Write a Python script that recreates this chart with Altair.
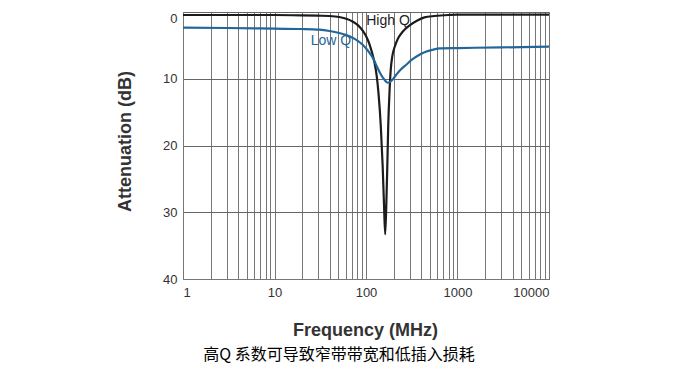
import altair as alt
import pandas as pd

# High Q curve (frequency MHz, attenuation dB)
high_f = [1, 10, 20, 30, 40, 51, 62, 72, 82, 92, 100, 109, 117, 124, 131, 137, 145, 152, 157, 162,
          167, 171, 175, 180, 186, 194, 206, 223, 250, 300, 360, 435, 560, 800, 1000, 10000]
high_db = [0.45, 0.45, 0.5, 0.55, 0.6, 0.75, 1.05, 1.45, 2.0, 2.8, 3.6, 4.8, 6.2, 7.6, 9.6, 12.2, 17.0, 23.0, 28.5, 33.3,
           28.5, 23.0, 17.0, 12.5, 8.8, 6.6, 5.2, 4.0, 3.0, 2.0, 1.3, 0.8, 0.6, 0.45, 0.4, 0.4]

# Low Q curve
low_f = [1, 3, 10, 20, 31, 40, 51, 62, 72, 82, 92, 105, 119, 133, 146, 160, 173, 190, 214, 240,
         275, 320, 384, 450, 537, 635, 1000, 3000, 10000]
low_db = [2.35, 2.4, 2.5, 2.55, 2.65, 2.85, 3.15, 3.5, 3.9, 4.35, 4.9, 5.8, 6.9, 8.3, 9.4, 10.2, 10.6, 10.3, 9.4, 8.6,
          7.9, 7.1, 6.4, 5.95, 5.65, 5.45, 5.4, 5.3, 5.2]

# Curve labels
label_text = ["High Q", "Low Q"]
label_f = [174, 41.4]
label_db = [1.4, 4.4]
label_series = ["high", "low"]

x_grid = [m * 10 ** e for e in range(4) for m in range(1, 10)] + [10000]
y_ticks = [0, 10, 20, 30, 40]

df = pd.concat([
    pd.DataFrame({"f": high_f, "db": high_db, "series": "high"}),
    pd.DataFrame({"f": low_f, "db": low_db, "series": "low"}),
])
lab = pd.DataFrame({"f": label_f, "db": label_db, "text": label_text, "series": label_series})

FONT = "Liberation Sans"

x_scale = alt.Scale(type="log", domain=[1, 10000], nice=False)
y_scale = alt.Scale(domain=[0, 40], reverse=True, nice=False)
color_scale = alt.Scale(domain=["high", "low"], range=["#1c1c1c", "#23679a"])

x_axis = alt.Axis(
    values=x_grid, format="d",
    labelExpr="indexof([1,10,100,1000,10000], datum.value) >= 0 ? datum.label : ''",
    title="Frequency (MHz)", titleFontSize=18, titleFontWeight="bold", titleColor="#333333",
    titleFont=FONT, titleX=182, titleY=51, titleBaseline="middle",
    labelFont=FONT, labelFontSize=13, labelColor="#333333", labelPadding=7,
    ticks=False, grid=True, gridColor="#777777", gridWidth=1,
    domainColor="#777777", labelOverlap=False,
)
y_axis = alt.Axis(
    values=y_ticks, title="Attenuation (dB)", titleFontSize=18, titleFontWeight="bold",
    titleColor="#333333", titleFont=FONT, titleX=-58, titleY=129, titleBaseline="middle",
    titleAlign="center", titleAngle=-90,
    labelFont=FONT, labelFontSize=13, labelColor="#333333", labelPadding=6,
    labelBaseline={"condition": {"test": "datum.value == 0", "value": "top"}, "value": "middle"},
    ticks=False, grid=True, gridColor="#666666", gridWidth=1, domainColor="#777777",
)

lines = alt.Chart(df).mark_line(strokeWidth=2.2, interpolate="monotone").encode(
    x=alt.X("f:Q", scale=x_scale, axis=x_axis),
    y=alt.Y("db:Q", scale=y_scale, axis=y_axis),
    color=alt.Color("series:N", scale=color_scale, legend=None),
    detail="series:N",
)

texts = alt.Chart(lab).mark_text(font=FONT, fontSize=14, baseline="middle", align="center").encode(
    x=alt.X("f:Q", scale=x_scale),
    y=alt.Y("db:Q", scale=y_scale),
    text="text:N",
    color=alt.Color("series:N", scale=alt.Scale(domain=["high", "low"], range=["#333333", "#23679a"]), legend=None),
)

chart = (lines + texts).properties(
    width=366, height=267,
    autosize=alt.AutoSizeParams(type="none"),
    padding={"left": 175, "top": 4, "right": 100, "bottom": 87},
    title=alt.TitleParams(
        "高Q 系数可导致窄带带宽和低插入损耗", orient="bottom", anchor="middle",
        font="Noto Sans CJK SC", fontSize=16, fontWeight="normal", color="#000000",
        dx=-27, offset=8,
    ),
).configure_view(stroke="#777777", strokeWidth=1)

chart.save("out.html", embed_options={"renderer": "svg", "actions": False})
